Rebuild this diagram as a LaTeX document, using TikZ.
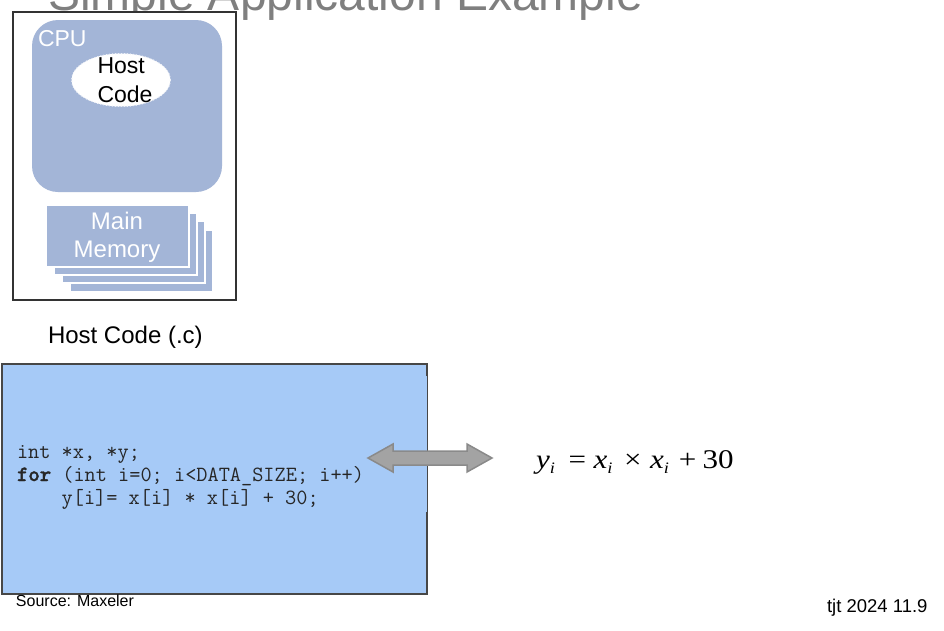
\documentclass[tikz,border=0pt]{standalone}
\usepackage{fontspec}
\usepackage{graphicx}
\setmainfont{Liberation Sans}
\newfontfamily\eqfont{Liberation Serif}
\newfontfamily\codeheavy{lmmonolt10-bold.otf}[FakeBold=1.5]
\usetikzlibrary{shapes.geometric}
\definecolor{cpublue}{HTML}{A3B5D7}
\definecolor{codeblue}{HTML}{A6CAF7}
\definecolor{framegray}{HTML}{333333}
\definecolor{titlegray}{HTML}{7F7F7F}
\definecolor{arrowfill}{HTML}{A3A3A3}
\definecolor{arrowdraw}{HTML}{8A8A8A}
\newcommand{\fs}[2]{\fontsize{#1}{#2}\selectfont}
\newcommand{\eqsub}[1]{\raisebox{-5.5pt}{\fs{16}{16}\textit{#1}}}
\newcommand{\heavy}[1]{{\codeheavy\fs{21.7}{23}#1}}
\tikzset{
  plain/.style={inner sep=0pt, outer sep=0pt},
  memlayer/.style={fill=cpublue, draw=white, line width=1.5pt},
  codeline/.style={plain, anchor=base west, text=black!85, font=\ttfamily\fs{21.7}{23}},
}
\begin{document}
\begin{tikzpicture}[x=1pt, y=-1pt]
\useasboundingbox (0,0) rectangle (944,630);
\clip (0,0) rectangle (944,630);
% title (cut off at the top)
\node[plain, anchor=base west, text=titlegray, font=\fs{48}{48}] (title) at (48,10) {Simple Application Example};
% host frame
\draw[framegray, line width=2pt, fill=white] (13,12) rectangle (236,300);
% CPU
\draw[fill=cpublue, draw=none, rounded corners=26pt] (32,20) rectangle (222,192);
\node[plain, anchor=west, text=white, font=\fs{23}{23}] (cpu) at (38,39) {CPU};
\node[ellipse, fill=white, draw=white!80!cpublue, dotted, line width=1pt, minimum width=99pt, minimum height=53pt, inner sep=0pt] (hostell) at (121,80) {};
\node[plain, align=left, font=\fs{23}{29}, anchor=center] (hosttext) at (125,80) {Host\\Code};
% main memory stack
\draw[memlayer] (70,230) rectangle (213,292);
\draw[memlayer] (62,221) rectangle (205,283);
\draw[memlayer] (54,213) rectangle (197,275);
\draw[memlayer] (46,205) rectangle (189,267);
\node[plain, align=center, text=white, font=\fs{24}{28}] (mem) at (117,237) {Main\\Memory};
% host code
\node[plain, anchor=west, font=\fs{24}{24}] (hclabel) at (48,337) {Host Code (.c)};
\fill[codeblue] (2,364) rectangle (427,594);
\draw[draw=framegray!90, line width=2pt] (427,376) -- (427,364) -- (2,364) -- (2,594) -- (427,594) -- (427,512);
\draw[draw=framegray!90, line width=1pt] (427,376) -- (427,512);
\node[codeline] (l1) at (17,458) {int *x, *y;};
\node[codeline] (l2) at (17,481) {\heavy{for} (int i=0; i<DATA\_SIZE; i++)};
\node[codeline] (l3) at (17,504) {\ \ \ \ y[i]= x[i] * x[i] + 30;};
% double arrow
\draw[fill=arrowfill, draw=arrowdraw, line width=1.5pt, line join=miter]
  (368,458) -- (393,444) -- (393,451) -- (467,451) -- (467,444) -- (492,458)
  -- (467,472) -- (467,465) -- (393,465) -- (393,472) -- cycle;
% equation
\node[plain, anchor=base west, font=\eqfont\fs{27}{27}] (eq) at (536,468)
  {\scalebox{1.15}[1]{\textit{y}\eqsub{i}\hspace{12pt}=\hspace{6.5pt}\textit{x}\eqsub{i}\hspace{10pt}×\hspace{7.4pt}\textit{x}\eqsub{i}\hspace{8.5pt}+\hspace{5.5pt}30}};
% footers
\node[plain, anchor=west, font=\fs{16}{16}] (src) at (16,601) {Source: Maxeler};
\node[plain, anchor=west, font=\fs{18.5}{18.5}] (tjt) at (827,608) {tjt 2024 11.9};
\end{tikzpicture}
\end{document}
